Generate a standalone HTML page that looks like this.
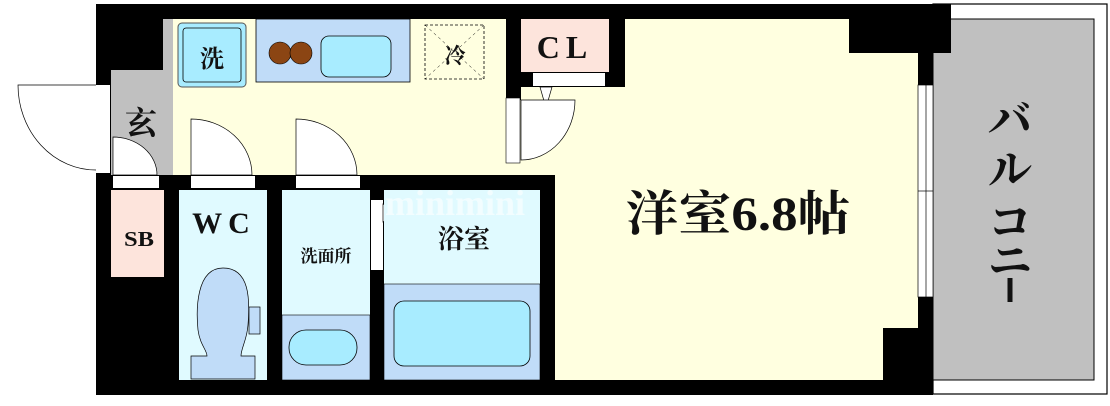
<!DOCTYPE html>
<html><head><meta charset="utf-8"><style>
html,body{margin:0;padding:0;background:#fff;}
svg{display:block;}
text{font-family:"Liberation Serif","Noto Serif CJK SC",serif;fill:#111;font-weight:bold;}
</style></head><body>
<svg width="1110" height="406" viewBox="0 0 1110 406" xmlns="http://www.w3.org/2000/svg">
<rect x="933" y="4" width="174" height="390" fill="#fff" stroke="#000" stroke-width="1.2"/>
<rect x="933" y="19" width="161" height="361" fill="#c0c0c0" stroke="#000" stroke-width="1"/>
<rect x="96" y="4" width="855" height="49" fill="#000"/>
<rect x="96" y="4" width="837" height="391" fill="#000"/>
<rect x="172" y="19" width="334" height="156" fill="#ffffe0"/>
<rect x="163" y="19" width="10" height="52" fill="#c0c0c0"/>
<rect x="111" y="70" width="62" height="105" fill="#c0c0c0"/>
<polygon points="625,19 849,19 849,53 918,53 918,328 883,328 883,380 555,380 555,190 506,190 506,100 521,100 521,87 625,87" fill="#ffffe0"/>
<rect x="506" y="175" width="49" height="15" fill="#000"/>
<rect x="506" y="19" width="15" height="81" fill="#000"/>
<rect x="609" y="19" width="16" height="68" fill="#000"/>
<rect x="521" y="19" width="88" height="53" fill="#fde4dc"/>
<rect x="533" y="73" width="72" height="13" fill="#fff"/>
<polygon points="540,87 552,87 546,108" fill="#fff" stroke="#000" stroke-width="0.7"/>
<rect x="506" y="98" width="14" height="65" fill="#fff" stroke="#000" stroke-width="0.6"/>
<path d="M521,100 L575,100 A54,60 0 0 1 521,160 Z" fill="#fff" stroke="#000" stroke-width="0.7"/>
<rect x="918" y="85" width="15" height="212" fill="#fff" stroke="#000" stroke-width="0.7"/>
<line x1="926" y1="85" x2="926" y2="297" stroke="#000" stroke-width="0.7"/>
<line x1="918" y1="191" x2="933" y2="191" stroke="#000" stroke-width="0.7"/>
<rect x="96" y="85" width="14" height="88" fill="#fff"/>
<path d="M96,85 L18,85 A78,85 0 0 0 96,170" fill="#fff" stroke="#000" stroke-width="0.7"/>
<rect x="113" y="176" width="46" height="12" fill="#fff"/>
<path d="M113,175 L113,137 A44,38 0 0 1 157,175 Z" fill="#fff" stroke="#000" stroke-width="0.7"/>
<rect x="191" y="176" width="64" height="12" fill="#fff"/>
<path d="M191,175 L191,119 A61,56 0 0 1 252,175 Z" fill="#fff" stroke="#000" stroke-width="0.7"/>
<rect x="296" y="176" width="64" height="12" fill="#fff"/>
<path d="M296,175 L296,119 A61,56 0 0 1 357,175 Z" fill="#fff" stroke="#000" stroke-width="0.7"/>
<rect x="178" y="23" width="68" height="64" rx="4" fill="#a8ecff" stroke="#555" stroke-width="1"/>
<rect x="183" y="28" width="58" height="54" rx="3" fill="none" stroke="#000" stroke-width="0.8"/>
<rect x="256" y="19" width="154" height="63" fill="#c0dcf8" stroke="#000" stroke-width="0.8"/>
<circle cx="280" cy="53" r="11" fill="#8b4513" stroke="#000" stroke-width="0.6"/>
<circle cx="301" cy="53" r="11" fill="#8b4513" stroke="#000" stroke-width="0.6"/>
<rect x="321" y="36" width="70" height="41" rx="8" fill="#a8ecff" stroke="#000" stroke-width="0.8"/>
<rect x="425" y="25" width="59" height="54" fill="none" stroke="#000" stroke-width="0.8" stroke-dasharray="3,2"/>
<line x1="425" y1="25" x2="484" y2="79" stroke="#000" stroke-width="0.5" stroke-dasharray="3,3"/>
<line x1="484" y1="25" x2="425" y2="79" stroke="#000" stroke-width="0.5" stroke-dasharray="3,3"/>
<rect x="111" y="190" width="53" height="87" fill="#fde4dc"/>
<rect x="179" y="190" width="88" height="190" fill="#e0faff"/>
<path d="M223,268 C196,268 196,310 198,330 C200,345 207,350 207,356 L191,356 L191,379 L255,379 L255,356 L241,356 C241,348 247,340 248,325 C250,300 250,268 223,268 Z" fill="#c0dcf8" stroke="#000" stroke-width="0.7"/>
<rect x="249" y="307" width="11" height="27" fill="#c0dcf8" stroke="#000" stroke-width="0.7"/>
<rect x="282" y="190" width="88" height="125" fill="#e0faff"/>
<rect x="282" y="315" width="88" height="65" fill="#c0dcf8" stroke="#000" stroke-width="0.6"/>
<rect x="289" y="330" width="68" height="35" rx="17" fill="#a8ecff" stroke="#000" stroke-width="0.8"/>
<rect x="371" y="200" width="12" height="70" fill="#fff"/>
<polygon points="383,204 383,222 398,212" fill="#fff" stroke="#000" stroke-width="0.7"/>
<rect x="384" y="190" width="156" height="94" fill="#e0faff"/>
<rect x="384" y="284" width="156" height="96" fill="#c0dcf8" stroke="#000" stroke-width="0.6"/>
<rect x="394" y="301" width="136" height="65" rx="10" fill="#a8ecff" stroke="#000" stroke-width="0.8"/>
<text x="385" y="215" font-family="Liberation Sans,sans-serif" font-size="36" style="fill:#ffffff;opacity:0.6;font-weight:bold">minimini</text>
<text x="212" y="67" font-size="24" text-anchor="middle">洗</text>
<text x="455" y="63" font-size="21" text-anchor="middle">冷</text>
<text x="565" y="58" font-size="32" text-anchor="middle" letter-spacing="6">CL</text>
<text x="141" y="134" font-size="32" text-anchor="middle">玄</text>
<text x="139" y="246" font-size="21" text-anchor="middle" textLength="30" lengthAdjust="spacingAndGlyphs">SB</text>
<text x="224" y="233" font-size="30" text-anchor="middle" letter-spacing="6">WC</text>
<text x="326" y="262" font-size="17" text-anchor="middle">洗面所</text>
<text x="464" y="248" font-size="26" text-anchor="middle">浴室</text>
<text x="738" y="230" font-size="48" text-anchor="middle" textLength="225" lengthAdjust="spacingAndGlyphs">洋室6.8帖</text>
<g font-size="44">
<text x="1010" y="135" text-anchor="middle">バ</text>
<text x="1010" y="185" text-anchor="middle">ル</text>
<text x="1010" y="237" text-anchor="middle">コ</text>
<text x="1010" y="276" text-anchor="middle">ニ</text>
</g>
<line x1="1010" y1="278" x2="1010" y2="302" stroke="#111" stroke-width="5"/>
</svg>
</body></html>
